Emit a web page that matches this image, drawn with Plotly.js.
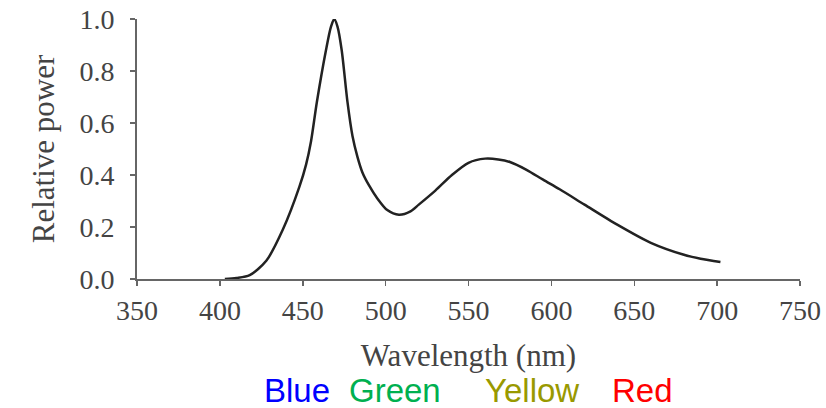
<!DOCTYPE html>
<html>
<head>
<meta charset="utf-8">
<script src="https://cdn.plot.ly/plotly-3.0.1.min.js"></script>
<style>html,body{margin:0;padding:0;background:#fff}#chart{width:826px;height:408px}</style>
</head>
<body>
<div id="chart"></div>
<script>
const wavelength = [403, 410, 418, 428, 438, 448, 452, 455, 458.5, 464, 467, 469, 471, 473.5, 477, 480, 483, 486, 490, 495, 501, 508, 515, 520, 530, 540, 550, 560, 568, 575, 585, 595, 605, 620, 640, 660, 680, 690, 702];
const relPower   = [0, 0.004, 0.015, 0.07, 0.19, 0.355, 0.44, 0.53, 0.68, 0.88, 0.97, 1.0, 0.97, 0.88, 0.68, 0.55, 0.47, 0.41, 0.36, 0.31, 0.265, 0.247, 0.26, 0.286, 0.34, 0.40, 0.447, 0.463, 0.46, 0.45, 0.42, 0.382, 0.345, 0.286, 0.208, 0.139, 0.093, 0.078, 0.065];
const xTicks = [350, 400, 450, 500, 550, 600, 650, 700, 750];
const yTicks = [0, 0.2, 0.4, 0.6, 0.8, 1.0];
const yTickText = ["0.0", "0.2", "0.4", "0.6", "0.8", "1.0"];
const colorNames = ["Blue", "Green", "Yellow", "Red"];
const colorValues = ["#0000ff", "#00b050", "#999900", "#ff0000"];
const colorPos = [0.241, 0.389, 0.596, 0.763];

const serif = "Liberation Serif, DejaVu Serif, serif";
const trace = {
  x: wavelength, y: relPower, type: "scatter", mode: "lines",
  line: {color: "#222", width: 2.5, shape: "spline", smoothing: 0.8},
  hoverinfo: "skip"
};
const annotations = colorNames.map((n, i) => ({
  text: n, xref: "paper", yref: "paper", x: colorPos[i], y: -0.43,
  showarrow: false, xanchor: "center", yanchor: "middle",
  font: {family: "Liberation Sans, Arial, sans-serif", size: 33, color: colorValues[i]}
}));
const layout = {
  width: 826, height: 408,
  margin: {l: 137, r: 26, t: 19, b: 129},
  paper_bgcolor: "#fff", plot_bgcolor: "#fff",
  showlegend: false,
  xaxis: {
    range: [350, 750], tickvals: xTicks, ticktext: xTicks.map(String),
    showgrid: false, zeroline: false, showline: true, linecolor: "#666", linewidth: 2,
    ticks: "outside", ticklen: 5, tickcolor: "#666", tickwidth: 1.5,
    tickfont: {family: serif, size: 28, color: "#444"},
    title: {text: "Wavelength (nm)", font: {family: serif, size: 31, color: "#444"}, standoff: 20}
  },
  yaxis: {
    range: [0, 1.0], tickvals: yTicks, ticktext: yTickText,
    showgrid: false, zeroline: false, showline: true, linecolor: "#666", linewidth: 2,
    ticks: "outside", ticklen: 5, tickcolor: "#666", tickwidth: 1.5,
    ticklabelstandoff: 10,
    tickfont: {family: serif, size: 28, color: "#444"},
    title: {text: "Relative power", font: {family: serif, size: 31, color: "#444"}, standoff: 16}
  },
  annotations: annotations
};
Plotly.newPlot("chart", [trace], layout, {displayModeBar: false, staticPlot: true});
</script>
</body>
</html>
